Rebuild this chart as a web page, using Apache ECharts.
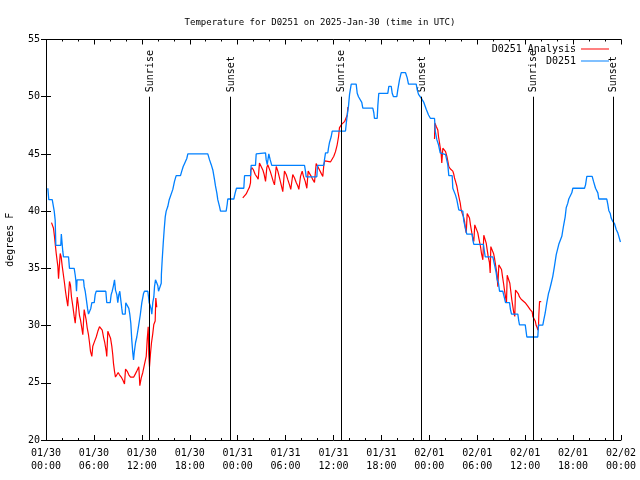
<!DOCTYPE html>
<html>
<head>
<meta charset="utf-8">
<script src="https://cdn.jsdelivr.net/npm/echarts@6/dist/echarts.min.js"></script>
<style>html,body{margin:0;padding:0;background:#fff}#c{width:640px;height:480px}</style>
</head>
<body>
<div id="c"></div>
<script>
// Hours since 2025-01-30 00:00 UTC
var xTickLabels = ['01/30\n00:00','01/30\n06:00','01/30\n12:00','01/30\n18:00','01/31\n00:00','01/31\n06:00','01/31\n12:00','01/31\n18:00','02/01\n00:00','02/01\n06:00','02/01\n12:00','02/01\n18:00','02/02\n00:00'];

var sunHours = [12.98, 23.03, 36.92, 47.05, 60.95, 70.97];
var sunLabels = ['Sunrise','Sunset','Sunrise','Sunset','Sunrise','Sunset'];

// D0251 observations
var obsHours = [0.23,0.35,0.78,1.03,1.15,1.23,1.85,1.92,1.98,2.10,2.19,2.82,2.94,3.53,3.66,3.73,3.82,3.89,4.70,4.78,4.91,5.03,5.20,5.32,5.53,5.61,5.74,6.04,6.16,6.29,7.49,7.61,8.04,8.16,8.29,8.45,8.58,8.70,8.87,8.99,9.12,9.24,9.37,9.49,9.58,9.92,9.99,10.24,10.37,10.49,10.62,10.74,10.87,10.96,11.04,11.21,11.37,11.58,11.80,12.00,12.21,12.33,12.75,12.84,12.92,13.05,13.17,13.25,13.37,13.50,13.59,13.71,13.92,14.00,14.09,14.30,14.43,14.45,14.55,14.68,14.80,14.93,15.05,15.25,15.43,15.68,15.88,16.09,16.30,16.84,17.00,17.18,17.34,17.63,17.76,20.26,20.47,20.69,20.89,21.10,21.22,21.39,21.51,21.73,21.85,22.56,22.69,22.76,23.52,23.69,23.85,24.77,24.86,25.61,25.69,26.23,26.32,26.45,27.49,27.57,27.70,27.90,28.07,28.27,32.37,32.49,32.58,33.91,34.00,34.79,34.87,35.00,35.29,35.37,35.50,35.71,35.84,37.50,37.65,37.88,38.01,38.22,38.84,38.97,39.13,39.38,39.54,39.67,40.92,41.05,41.13,41.47,41.55,41.67,42.80,42.93,43.23,43.35,43.51,43.93,44.05,44.27,44.48,45.02,45.23,45.39,46.36,46.48,46.65,47.06,47.31,47.61,47.90,48.15,48.65,48.74,48.94,49.15,49.36,49.56,50.03,50.11,50.31,50.44,50.86,50.94,51.15,51.28,51.44,51.69,51.78,52.19,52.32,52.53,52.69,53.37,53.44,53.57,54.78,54.87,55.00,55.95,56.07,56.20,56.37,56.50,56.66,56.79,57.20,57.41,57.54,58.04,58.16,58.29,59.08,59.20,59.29,60.01,60.21,61.58,61.67,62.21,62.33,62.51,62.71,62.92,63.05,63.26,63.46,63.67,63.89,64.21,64.39,64.59,64.80,65.01,65.14,65.34,65.46,65.68,65.84,65.97,67.43,67.56,67.72,68.39,68.56,68.81,69.10,69.22,70.22,70.35,70.47,70.65,70.77,70.97,71.19,71.40,71.60,71.81,71.93];
var obsTemps = [42.0,41,41,40,39.2,37,37,38,37.5,36.5,36,36,35,35,34.4,34,33,34,34,33.4,33,32.4,31.5,31,31,31.5,32,32,32.7,33,33,32,32,32.7,33,33.5,34,33.1,32.7,32,32.7,33,32.2,31.5,31,31,32,32,31.5,31,30.2,28.75,27.6,27,27.6,28.5,29,29.9,30.9,32,32.8,33,33,32.5,32,31.75,31.4,31,32,32.5,33.4,34,34,33.5,33,33,33.7,34.5,35.75,37.2,38.4,39.5,40,40.4,41,41.15,41.9,42.6,43.1,43.1,43.5,43.9,44.15,44.6,45,45,44.5,44.06,43.6,42.75,42.2,41.6,41,40.4,40,40,40.6,41.06,41.06,41.6,42,42,43.1,43.1,44,44,45,45.1,45.1,44.5,44.06,45,44.5,44,44,43.5,43,43,44,44,44.5,45.1,45.1,45.5,46,46.5,47,47,48,49.2,50.2,51.1,51.1,50.3,50,49.9,49.5,49,49,48.6,48.1,48.1,49.2,50.3,50.3,50.9,50.9,50.3,50,50,50.6,51.5,52.1,52.1,51.65,51.1,51.1,50.6,50.2,49.8,49.5,48.9,48.4,48.1,48.1,47,46.25,45.8,45.1,44.94,44.94,44.8,44.06,43.1,43.1,42,41.9,41.4,41,40.1,40,40,39.1,38.5,38,38,37.5,37.1,37.1,36.6,36,36,35.6,35.2,34.6,34,33.7,33,33,32.4,32,32,31.4,31,31,30.4,30.06,30.06,29,29,30.04,30.04,30.5,31.1,32,32.8,33.1,33.7,34.3,35.2,36.2,37.1,37.2,37.8,38.7,39.5,40.3,40.7,41.06,41.06,41.6,42,42,42.3,43.04,43.04,42.6,42,41.6,41.06,41.06,40.6,40.06,39.8,39.4,39.1,38.9,38.4,38.1,37.94,37.3];

// D0251 Analysis (null = gap)
var anaHours = [0.69,0.94,1.06,1.19,1.28,1.48,1.57,1.78,1.90,2.03,2.32,2.44,2.60,2.73,2.94,3.07,3.19,3.36,3.53,3.66,3.86,3.91,4.03,4.19,4.32,4.48,4.61,4.78,4.91,5.03,5.16,5.32,5.45,5.57,5.74,5.86,6.07,6.29,6.49,6.70,6.95,7.04,7.20,7.36,7.54,7.61,7.74,7.95,8.08,8.24,8.36,8.45,8.58,8.70,8.87,9.04,9.20,9.42,9.62,9.83,9.96,10.17,10.37,10.58,10.79,10.99,11.21,11.42,11.62,11.75,11.92,12.12,12.33,12.55,12.67,12.80,12.87,12.96,13.09,13.21,13.37,13.50,13.67,13.75,13.87,
  18.0,
  24.64,25.07,25.27,25.48,25.61,25.65,25.77,25.98,26.20,26.40,26.57,26.73,26.95,27.15,27.32,27.49,27.65,27.77,28.07,28.27,28.45,28.61,28.83,29.03,29.24,29.45,29.65,29.86,30.08,30.28,30.49,30.65,30.90,31.12,31.33,31.53,31.66,31.87,32.08,32.24,32.46,32.66,32.83,32.99,33.21,33.41,33.62,33.83,34.03,34.25,34.46,34.66,34.79,34.91,35.12,35.62,35.84,36.04,36.25,36.46,36.63,36.75,36.88,37.04,37.25,37.41,37.59,37.72,37.79,37.81,
  43.0,
  48.65,48.69,48.87,49.06,49.15,49.27,49.49,49.56,49.69,49.90,50.03,50.19,50.31,50.44,50.61,50.74,50.94,51.07,51.15,51.28,51.44,51.57,51.69,51.87,51.99,52.12,52.28,52.41,52.53,52.62,52.74,52.94,53.03,53.15,53.32,53.44,53.57,53.69,53.94,54.07,54.19,54.41,54.53,54.70,54.82,55.00,55.12,55.25,55.37,55.53,55.62,55.70,55.91,56.04,56.16,56.29,56.45,56.58,56.70,56.91,57.04,57.16,57.29,57.41,57.54,57.66,57.75,57.95,58.08,58.20,58.33,58.45,58.58,58.70,58.79,58.95,59.13,59.29,59.50,59.70,60.00,60.33,60.63,60.88,60.96,61.13,61.26,61.38,61.51,61.58,61.67,61.71,61.80,62.01];
var anaTemps = [39.0,38.5,37.8,36.9,36.3,35.2,34.1,36.3,36.0,35.2,33.7,33.0,32.25,31.7,33.85,33.5,32.5,31.7,30.8,30.2,30.2,32.5,31.9,30.9,30.5,29.8,29.2,31.4,31.5,30.5,29.8,29.2,28.5,27.75,27.3,28.2,28.6,29.0,29.5,29.9,30.04,29.6,29.0,28.5,27.75,27.3,29.5,29.5,28.9,28.2,27.45,26.7,26.0,25.5,25.5,25.9,25.7,25.5,25.25,24.9,26.2,26.0,25.7,25.5,25.4,25.5,25.8,26.1,26.4,24.75,25.4,25.9,26.6,27.3,28.75,29.9,27.5,26.4,27.6,28.5,29.3,30.1,30.4,32.4,31.6,
  null,
  41.15,41.5,41.8,42.1,42.5,43.6,43.8,43.6,43.2,43.0,42.8,44.2,44.2,43.6,43.2,42.6,43.8,44.06,43.5,43.04,42.6,42.3,43.9,43.5,42.9,42.3,41.7,43.5,43.2,42.75,42.3,41.9,43.2,42.9,42.5,42.2,41.9,43.04,43.5,43.04,42.6,42.0,43.5,43.3,43.04,42.75,42.5,44.15,43.9,43.6,43.3,43.04,44.06,44.4,44.3,44.3,44.4,44.8,45.2,45.8,46.5,47.3,47.4,47.6,47.7,47.85,48.0,48.4,49.0,49.1,
  null,
  46.3,47.7,47.4,47.1,46.5,46.0,44.94,44.2,45.5,45.6,45.2,44.8,44.4,43.9,43.7,43.6,43.5,43.2,42.9,42.6,42.2,41.7,41.3,40.7,40.1,39.8,39.5,39.1,38.4,38.1,39.8,39.8,39.4,38.8,38.1,37.65,37.35,38.8,38.8,38.1,37.65,36.9,36.3,35.75,37.9,37.9,37.2,36.6,36.04,35.5,34.6,36.9,36.9,36.3,35.9,35.3,34.6,33.4,35.3,35.3,34.9,34.3,33.7,33.1,32.5,32.0,34.4,34.4,33.7,33.0,32.25,31.7,31.1,30.8,33.1,33.1,32.8,32.5,32.3,32.2,32.0,31.7,31.4,31.2,30.8,30.8,30.4,30.0,29.8,29.6,29.9,30.9,32.1,32.1];

var MONO = 'DejaVu Sans Mono';
var anaData = anaHours.map(function (h, i) { return [h, anaTemps[i] === null ? '-' : anaTemps[i]]; });
var obsData = obsHours.map(function (h, i) { return [h, obsTemps[i]]; });
var sunData = sunHours.map(function (h) { return [h, 50]; });

var chart = echarts.init(document.getElementById('c'), null, {renderer: 'canvas'});
var tickBase = {
  axisLine: {show: true, lineStyle: {color: '#000', width: 1}},
  axisTick: {show: true, inside: true, length: 5, lineStyle: {color: '#000'}},
  splitLine: {show: false}
};
function xAxisCfg(pos, showLabel) {
  return Object.assign({
    type: 'value', position: pos, min: 0, max: 72, interval: 6,
    minorTick: {show: true, splitNumber: 3, length: 2, lineStyle: {color: '#000'}},
    axisLabel: {show: showLabel, margin: 7, lineHeight: 13, color: '#000', fontFamily: MONO, fontSize: 10,
      formatter: function (v) { return xTickLabels[Math.round(v / 6)]; }}
  }, tickBase);
}
function yAxisCfg(pos, showLabel) {
  return Object.assign({
    type: 'value', position: pos, min: 20, max: 55, interval: 5,
    axisLabel: {show: showLabel, margin: 6, color: '#000', fontFamily: MONO, fontSize: 10},
    name: showLabel ? 'degrees F' : '', nameLocation: 'middle', nameGap: 31, nameRotate: 90,
    nameTextStyle: {color: '#000', fontFamily: MONO, fontSize: 10}
  }, tickBase);
}

chart.setOption({
  animation: false,
  backgroundColor: '#fff',
  title: {text: 'Temperature for D0251 on 2025-Jan-30 (time in UTC)', left: 'center', top: 13,
    textStyle: {fontFamily: MONO, fontSize: 9, fontWeight: 'normal', color: '#000'}},
  grid: {left: 46, right: 19, top: 39.5, bottom: 40, containLabel: false, outerBoundsMode: 'none'},
  legend: [
    {data: ['D0251 Analysis'], right: 31, top: 44, padding: 0, align: 'right', icon: 'rect', itemWidth: 28, itemHeight: 1,
      textStyle: {fontFamily: MONO, fontSize: 10, color: '#000'}},
    {data: ['D0251'], right: 31, top: 56, padding: 0, align: 'right', icon: 'rect', itemWidth: 28, itemHeight: 1,
      textStyle: {fontFamily: MONO, fontSize: 10, color: '#000'}}
  ],
  xAxis: [xAxisCfg('bottom', true), xAxisCfg('top', false)],
  yAxis: [yAxisCfg('left', true), yAxisCfg('right', false)],
  series: [
    {name: 'sun', type: 'scatter', data: sunData, symbolSize: 1, itemStyle: {color: 'rgba(0,0,0,0)'}, silent: true,
      label: {show: true, rotate: 90, position: [1.5, -4], align: 'left', verticalAlign: 'middle',
        formatter: function (p) { return sunLabels[p.dataIndex]; }, color: '#000', opacity: 1, fontFamily: MONO, fontSize: 10},
      markLine: {silent: true, symbol: 'none', label: {show: false}, lineStyle: {color: '#000', width: 1, type: 'solid'},
        data: sunHours.map(function (h) { return [{coord: [h, 20]}, {coord: [h, 50]}]; })}
    },
    {name: 'D0251 Analysis', type: 'line', data: anaData, showSymbol: false, connectNulls: false,
      color: '#ff0000', lineStyle: {color: '#ff0000', width: 1.2}},
    {name: 'D0251', type: 'line', data: obsData, showSymbol: false,
      color: '#0080ff', lineStyle: {color: '#0080ff', width: 1.3}}
  ]
});
</script>
</body>
</html>
